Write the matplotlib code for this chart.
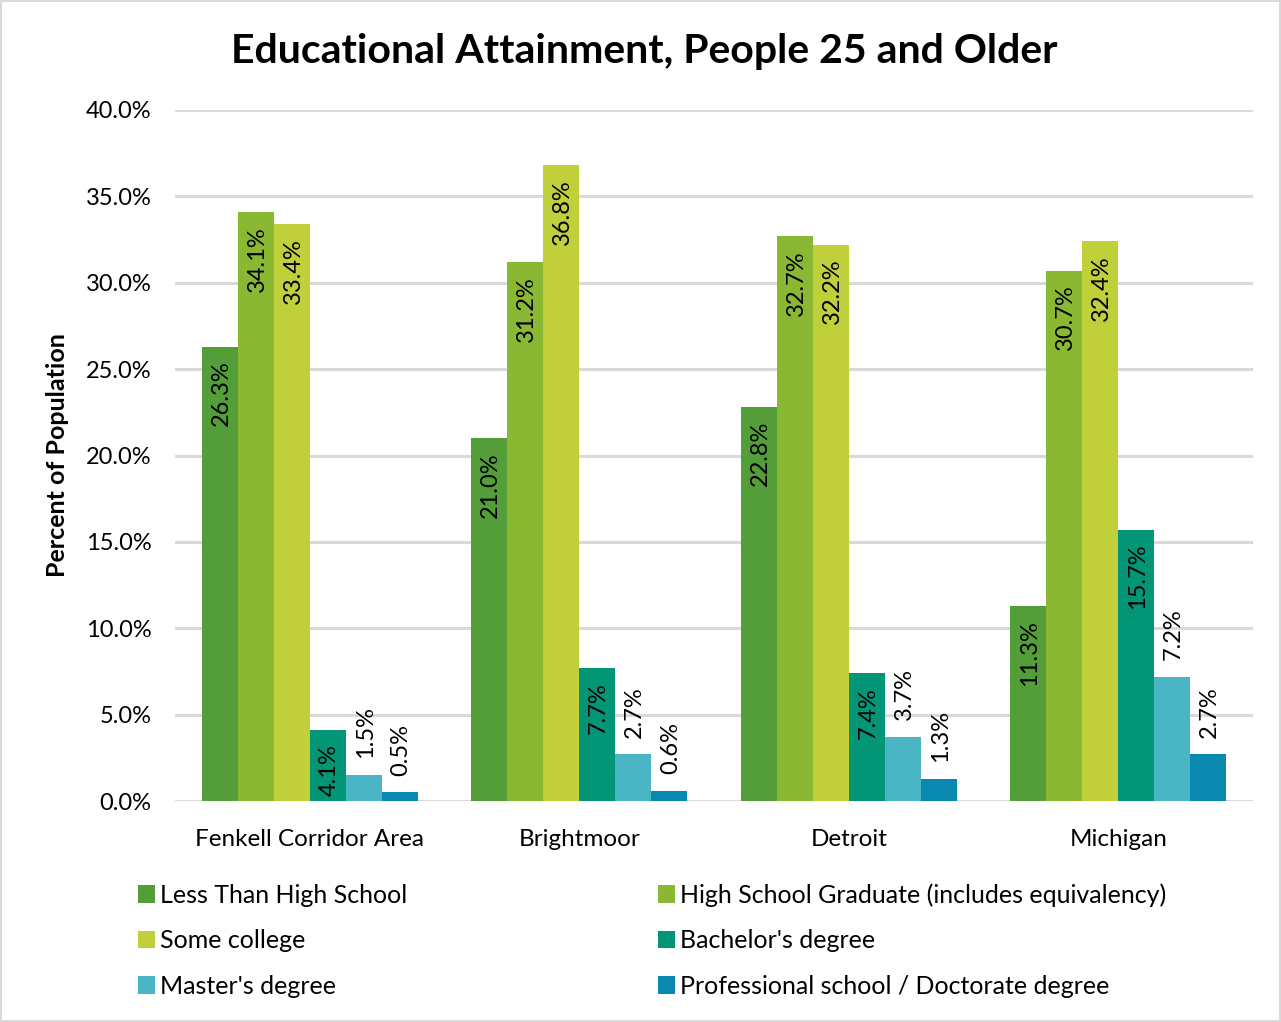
import numpy as np
import matplotlib.pyplot as plt

plt.rcParams['font.family'] = ['Lato', 'DejaVu Sans']

areas = ["Fenkell Corridor Area", "Brightmoor", "Detroit", "Michigan"]
series_names = ["Less Than High School", "High School Graduate (includes equivalency)",
                "Some college", "Bachelor's degree", "Master's degree",
                "Professional school / Doctorate degree"]
less_than_hs = [26.3, 21.0, 22.8, 11.3]
hs_grad = [34.1, 31.2, 32.7, 30.7]
some_college = [33.4, 36.8, 32.2, 32.4]
bachelors = [4.1, 7.7, 7.4, 15.7]
masters = [1.5, 2.7, 3.7, 7.2]
professional = [0.5, 0.6, 1.3, 2.7]
values = [less_than_hs, hs_grad, some_college, bachelors, masters, professional]
colors = ["#549E39", "#8AB833", "#C0CF3A", "#029676", "#4AB5C4", "#0989B1"]
inside_labels = [True, True, True, True, False, False]

fig = plt.figure(figsize=(12.81, 10.22), dpi=100)
fig.patch.set_edgecolor("#D9D9D9")
fig.patch.set_linewidth(1.5)
ax = fig.add_axes([0.1366, 0.2162, 0.8416, 0.6762])

x = np.arange(len(areas))
w = 0.1336
handles = []
for i, vals in enumerate(values):
    pos = x + (i - 2.5) * w
    bars = ax.bar(pos, vals, width=w, color=colors[i], zorder=3, label=series_names[i])
    handles.append(bars)
    for px, v in zip(pos, vals):
        if inside_labels[i]:
            ax.annotate(f"{v:.1f}%", (px, v), xytext=(1, -10), textcoords="offset points",
                        rotation=90, ha="center", va="top", fontsize=17, zorder=4)
        else:
            ax.annotate(f"{v:.1f}%", (px, v), xytext=(1, 12), textcoords="offset points",
                        rotation=90, ha="center", va="bottom", fontsize=17, zorder=4)

ax.set_ylim(0, 40)
ax.set_xlim(-0.5, 3.5)
ax.set_yticks(np.arange(0, 40.1, 5))
ax.set_yticklabels([f"{t:.1f}%" for t in np.arange(0, 40.1, 5)])
ax.set_xticks(x)
ax.set_xticklabels(areas)
ax.tick_params(axis="y", length=0, pad=17, labelsize=17)
ax.tick_params(axis="x", length=0, pad=20, labelsize=17.5)
ax.grid(axis="y", color="#D9D9D9", linewidth=2.2, zorder=0)
for s in ax.spines.values():
    s.set_visible(False)
ax.set_ylabel("Percent of Population", fontsize=18, fontweight="bold", labelpad=12)

fig.suptitle("Educational Attainment, People 25 and Older", fontsize=29.5, fontweight="bold",
             x=0.503, y=0.968)

order = [0, 2, 4, 1, 3, 5]
leg = fig.legend([handles[k] for k in order], [series_names[k] for k in order],
                 ncol=2, loc="upper left", bbox_to_anchor=(0.09, 0.158), frameon=False,
                 fontsize=18, handlelength=0.7, handleheight=0.7, handletextpad=0.2,
                 labelspacing=0.9, columnspacing=10.0)

fig.savefig("out.png", dpi=100)
